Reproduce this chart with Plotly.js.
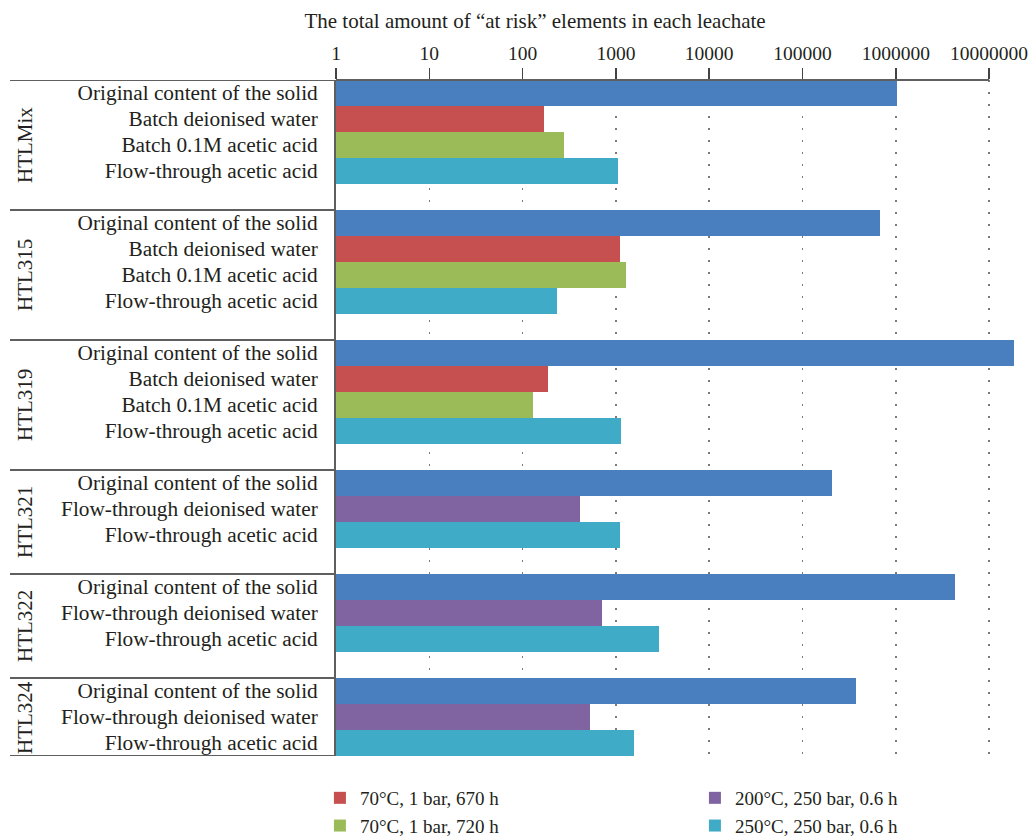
<!DOCTYPE html>
<html>
<head>
<meta charset="utf-8">
<script src="https://cdn.plot.ly/plotly-3.0.1.min.js"></script>
<style>
  html, body { margin: 0; padding: 0; background: #fff; }
  #chart { width: 1031px; height: 839px; }
</style>
</head>
<body>
<div id="chart"></div>
<script>
// Samples, one block per sample
const groups = ['HTLMix', 'HTL315', 'HTL319', 'HTL321', 'HTL322', 'HTL324'];

// Row labels of the leachate types, in the order drawn inside each block
const rowLabels = [
  'Original content of the solid',
  'Batch deionised water',
  'Batch 0.1M acetic acid',
  'Flow-through deionised water',
  'Flow-through acetic acid'
];

// Total amount of "at risk" elements (null = not measured for that sample)
const originalSolid  = [1020000, 676000, 18500000, 206000, 4320000, 373000];
const batchWater     = [170, 1107, 188, null, null, null];
const batchAcid      = [278, 1283, 129, null, null, null];
const flowWater      = [null, null, null, 411, 708, 529];
const flowAcid       = [1048, 234, 1132, 1104, 2904, 1567];

// Legend names of the leaching conditions
const seriesNames = [
  'Original content of the solid',
  '70°C, 1 bar, 670 h',
  '70°C, 1 bar, 720 h',
  '200°C, 250 bar, 0.6 h',
  '250°C, 250 bar, 0.6 h'
];

// Axis ticks
const xTickVals = [1, 10, 100, 1000, 10000, 100000, 1000000, 10000000];
const xTickText = ['1', '10', '100', '1000', '10000', '100000', '1000000', '10000000'];

const axisTitle = 'The total amount of \u201cat risk\u201d elements in each leachate';

// ---- layout of rows: each block is followed by one empty row ----
const seriesValues = [originalSolid, batchWater, batchAcid, flowWater, flowAcid];
const colors = ['#4a7fbf', '#c5504f', '#9bbb58', '#7f64a1', '#40abc6'];
const legendRanks = [0, 1, 3, 2, 4];

const rowPos = seriesValues.map(() => []);
const rowVal = seriesValues.map(() => []);
const tickVals = [], tickText = [];
const blockStart = [], blockEnd = [];
let slot = 0;
groups.forEach((g, gi) => {
  blockStart.push(slot - 0.5);
  seriesValues.forEach((vals, si) => {
    if (vals[gi] === null) return;
    rowPos[si].push(slot);
    rowVal[si].push(vals[gi]);
    tickVals.push(slot);
    tickText.push(rowLabels[si]);
    slot += 1;
  });
  if (gi < groups.length - 1) slot += 1;
  blockEnd.push(slot - 0.5);
});
const lastSlot = slot - 0.5;

const FONT = '"Liberation Serif", "Times New Roman", serif';
const INK = '#231f20';

const traces = seriesValues.map((vals, si) => ({
  type: 'bar',
  orientation: 'h',
  name: seriesNames[si],
  x: rowVal[si],
  y: rowPos[si],
  width: 1,
  marker: { color: colors[si], line: { width: 0 } },
  showlegend: si !== 0,
  legendrank: legendRanks[si],
  hoverinfo: 'x+name'
}));

// Divider lines of the sample blocks on the left
const shapes = [];
const boundaries = [blockStart[0]].concat(blockEnd);
boundaries.forEach(b => {
  shapes.push({
    type: 'line', xref: 'paper', yref: 'y',
    x0: -0.4766, x1: 0, y0: b, y1: b,
    line: { color: '#5f5f5f', width: 2 }
  });
});
// Top axis line from 1 to 10^7
shapes.push({
  type: 'line', xref: 'x', yref: 'paper',
  x0: xTickVals[0], x1: xTickVals[xTickVals.length - 1], y0: 1, y1: 1,
  line: { color: '#5f5f5f', width: 2 }
});

// Sample names, rotated, centred on each block
const annotations = groups.map((g, gi) => ({
  text: g,
  xref: 'paper', yref: 'y',
  x: -0.4547, y: (blockStart[gi] + blockEnd[gi]) / 2,
  xanchor: 'center', yanchor: 'middle',
  textangle: -90,
  showarrow: false,
  font: { family: FONT, size: 21, color: INK }
}));

const layout = {
  width: 1031,
  height: 839,
  margin: { l: 336, r: 11, t: 80, b: 83, autoexpand: false },
  paper_bgcolor: '#fff',
  plot_bgcolor: '#fff',
  barmode: 'overlay',
  bargap: 0,
  font: { family: FONT, color: INK },
  title: {
    text: axisTitle,
    xref: 'container', yref: 'container',
    x: 0.519, y: 0.975, xanchor: 'center', yanchor: 'middle',
    font: { family: FONT, size: 21, color: INK }
  },
  xaxis: {
    type: 'log',
    side: 'top',
    range: [0, 7.331],
    tickmode: 'array',
    tickvals: xTickVals,
    ticktext: xTickText,
    ticks: 'outside',
    ticklen: 11,
    tickwidth: 1.5,
    tickcolor: '#444',
    tickfont: { family: FONT, size: 19.5, color: INK },
    showgrid: true,
    gridcolor: '#7a7a7a',
    gridwidth: 1.5,
    griddash: '2px,10px',
    showline: false,
    zeroline: false,
    fixedrange: true
  },
  yaxis: {
    range: [lastSlot, -0.5],
    tickmode: 'array',
    tickvals: tickVals,
    ticktext: tickText,
    ticks: '',
    ticklabelstandoff: 12,
    tickfont: { family: FONT, size: 21.3, color: INK },
    showgrid: false,
    zeroline: false,
    showline: true,
    linecolor: '#5f5f5f',
    linewidth: 2,
    fixedrange: true
  },
  showlegend: true,
  legend: {
    orientation: 'h',
    x: -0.0235, y: -0.034,
    xanchor: 'left', yanchor: 'top',
    entrywidth: 330,
    entrywidthmode: 'pixels',
    traceorder: 'normal',
    font: { family: FONT, size: 19, color: INK },
    bgcolor: 'rgba(0,0,0,0)'
  },
  shapes: shapes,
  annotations: annotations
};

Plotly.newPlot('chart', traces, layout, { displayModeBar: false, staticPlot: true });
</script>
</body>
</html>
